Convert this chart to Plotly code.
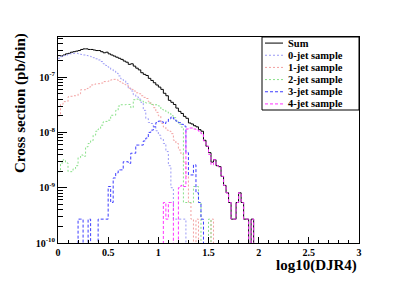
import plotly.graph_objects as go

# ---------------- data (cross section per bin, pb/bin); bins of 0.025 in log10(DJR4) from 0 to 2.0
bin_width = 0.025
n_bins = 80

sum_vals = [
    2.45e-7, 2.40e-7, 2.51e-7, 2.63e-7, 2.69e-7, 2.82e-7, 2.88e-7, 2.95e-7, 3.02e-7, 3.16e-7,
    3.24e-7, 3.24e-7, 3.16e-7, 3.16e-7, 3.09e-7, 3.02e-7, 3.02e-7, 2.88e-7, 2.75e-7, 2.82e-7,
    2.63e-7, 2.51e-7, 2.40e-7, 2.29e-7, 2.19e-7, 2.09e-7, 1.95e-7, 1.86e-7, 1.70e-7, 1.74e-7,
    1.58e-7, 1.45e-7, 1.35e-7, 1.20e-7, 1.12e-7, 1.07e-7, 9.5e-8, 8.7e-8, 7.9e-8, 7.2e-8,
    6.6e-8, 6.0e-8, 5.1e-8, 4.6e-8, 3.8e-8, 3.5e-8, 3.2e-8, 2.75e-8, 2.4e-8, 2.2e-8,
    1.95e-8, 1.8e-8, 1.48e-8, 1.42e-8, 1.32e-8, 1.26e-8, 1.12e-8, 1.05e-8, 7.2e-9, 5.6e-9,
    4.3e-9, 2.9e-9, 3.2e-9, 2.5e-9, 2.4e-9, 1.6e-9, 1.1e-9, 8.1e-10, 5.4e-10, 2.7e-10,
    2.7e-10, 5.4e-10, 8.1e-10, 5.4e-10, 2.7e-10, 2.7e-10, 0, 2.7e-10, 0, 0,
]

jet0_vals = [
    2.19e-7, 2.34e-7, 2.45e-7, 2.51e-7, 2.63e-7, 2.63e-7, 2.69e-7, 2.69e-7, 2.63e-7, 2.57e-7,
    2.51e-7, 2.45e-7, 2.40e-7, 2.34e-7, 2.24e-7, 2.14e-7, 2.04e-7, 1.91e-7, 1.74e-7, 1.62e-7,
    1.51e-7, 1.38e-7, 1.29e-7, 1.17e-7, 1.05e-7, 9.3e-8, 8.7e-8, 7.6e-8, 6.3e-8, 5.6e-8,
    4.8e-8, 4.4e-8, 4.0e-8, 3.5e-8, 2.5e-8, 1.78e-8, 1.51e-8, 1.45e-8, 1.26e-8, 1.07e-8,
    8.9e-9, 7.6e-9, 6.3e-9, 4.5e-9, 2.5e-9, 1.0e-9, 2.7e-10, 2.7e-10, 2.7e-10, 2.7e-10,
    2.7e-10, 0, 0, 0, 0, 0, 0, 0, 0, 0,
    0, 0, 0, 0, 0, 0, 0, 0, 0, 0,
    0, 0, 0, 0, 0, 0, 0, 0, 0, 0,
]

jet1_vals = [
    2.0e-8, 3.2e-8, 3.6e-8, 3.6e-8, 4.4e-8, 4.5e-8, 4.6e-8, 4.6e-8, 5.0e-8, 5.9e-8,
    5.9e-8, 6.2e-8, 6.6e-8, 7.2e-8, 7.4e-8, 7.6e-8, 7.6e-8, 7.8e-8, 8.3e-8, 8.3e-8,
    8.5e-8, 8.9e-8, 9.1e-8, 8.9e-8, 8.3e-8, 7.8e-8, 7.4e-8, 7.1e-8, 6.3e-8, 6.0e-8,
    5.6e-8, 5.2e-8, 5.0e-8, 4.6e-8, 4.3e-8, 4.1e-8, 3.6e-8, 3.2e-8, 2.8e-8, 2.3e-8,
    2.0e-8, 1.45e-8, 1.25e-8, 1.1e-8, 1.05e-8, 9.5e-9, 7.2e-9, 6.3e-9, 4.8e-9, 4.0e-9,
    2.9e-9, 1.6e-9, 5.4e-10, 2.7e-10, 0, 2.7e-10, 0, 0, 0, 0,
    0, 2.7e-10, 0, 0, 0, 0, 0, 0, 0, 0,
    0, 0, 0, 0, 0, 0, 0, 0, 0, 0,
]

jet2_vals = [
    1.95e-9, 2.8e-9, 3.2e-9, 2.8e-9, 1.95e-9, 1.95e-9, 2.2e-9, 2.5e-9, 3.5e-9, 3.9e-9,
    3.7e-9, 5.5e-9, 6.3e-9, 7.1e-9, 8.9e-9, 1.05e-8, 1.15e-8, 1.35e-8, 1.55e-8, 1.58e-8,
    1.66e-8, 2.04e-8, 2.04e-8, 2.5e-8, 3.0e-8, 3.16e-8, 3.16e-8, 3.2e-8, 3.2e-8, 2.8e-8,
    3.9e-8, 4.0e-8, 3.8e-8, 3.7e-8, 3.5e-8, 3.4e-8, 3.4e-8, 3.2e-8, 3.16e-8, 3.16e-8,
    3.0e-8, 2.6e-8, 2.5e-8, 2.34e-8, 2.2e-8, 2.0e-8, 1.85e-8, 1.6e-8, 1.4e-8, 1.25e-8,
    5.4e-10, 5.4e-10, 5.4e-10, 5.4e-10, 1.05e-9, 1.05e-9, 5.4e-10, 0, 0, 0,
    2.7e-10, 0, 0, 0, 0, 0, 0, 0, 0, 0,
    0, 0, 0, 0, 0, 0, 0, 0, 0, 0,
]

jet3_vals = [
    0, 0, 0, 0, 0, 0, 0, 0, 2.7e-10, 2.7e-10,
    0, 0, 2.7e-10, 0, 0, 0, 2.7e-10, 2.7e-10, 2.7e-10, 2.7e-10,
    1.05e-9, 5.4e-10, 1.5e-9, 1.85e-9, 2.1e-9, 2.1e-9, 2.95e-9, 2.95e-9, 2.75e-9, 4.2e-9,
    4.2e-9, 5.9e-9, 5.9e-9, 5.9e-9, 7.0e-9, 7.9e-9, 1.0e-8, 1.1e-8, 1.26e-8, 1.5e-8,
    1.6e-8, 1.55e-8, 1.45e-8, 1.55e-8, 1.75e-8, 1.9e-8, 1.75e-8, 1.6e-8, 1.5e-8, 1.4e-8,
    1.3e-8, 4.3e-9, 1.7e-9, 1.7e-9, 2.6e-9, 8.1e-10, 5.4e-10, 2.7e-10, 0, 0,
    0, 0, 0, 0, 0, 0, 0, 0, 0, 0,
    0, 0, 0, 0, 0, 0, 0, 0, 0, 0,
]

jet4_vals = [
    0, 0, 0, 0, 0, 0, 0, 0, 0, 0,
    0, 0, 0, 0, 0, 0, 0, 0, 0, 0,
    0, 0, 0, 0, 0, 0, 0, 0, 0, 0,
    0, 0, 0, 0, 0, 0, 0, 0, 0, 0,
    0, 0, 5.4e-10, 2.7e-10, 5.4e-10, 5.4e-10, 0, 0, 1.0e-9, 1.1e-9,
    1.05e-9, 1.15e-8, 1.2e-8, 1.2e-8, 1.15e-8, 1.1e-8, 1.05e-8, 9.5e-9, 7.0e-9, 5.6e-9,
    4.0e-9, 2.6e-9, 3.2e-9, 2.5e-9, 2.4e-9, 1.6e-9, 1.1e-9, 8.1e-10, 5.4e-10, 2.7e-10,
    2.7e-10, 5.4e-10, 8.1e-10, 5.4e-10, 2.7e-10, 2.7e-10, 0, 2.7e-10, 0, 0,
]

series_names = ["Sum", "0-jet sample", "1-jet sample", "2-jet sample", "3-jet sample", "4-jet sample"]
series_vals = [sum_vals, jet0_vals, jet1_vals, jet2_vals, jet3_vals, jet4_vals]

x_tick_vals = [0, 0.5, 1, 1.5, 2, 2.5, 3]
x_tick_text = ["0", "0.5", "1", "1.5", "2", "2.5", "3"]
y_tick_vals = [1e-10, 1e-9, 1e-8, 1e-7]
y_tick_text = ["10<sup>-10</sup>", "10<sup>-9</sup>", "10<sup>-8</sup>", "10<sup>-7</sup>"]

# ---------------- styles
colors = ["#000000", "#9a9af5", "#f2a0a0", "#88e088", "#3c3cff", "#ff33ff"]
dashes = ["solid", "2px,2px", "2px,2px", "2px,2px", "3px,2px", "3px,2px"]
FONT = "Liberation Serif, Times New Roman, serif"
FLOOR = 1e-12  # empty bins drawn at the bottom of the frame, as ROOT does on log scale

edges = [round(i * bin_width, 4) for i in range(n_bins + 1)]

fig = go.Figure()
for name, vals, c, d in zip(series_names, series_vals, colors, dashes):
    yv = [v if v > 0 else FLOOR for v in vals]
    fig.add_trace(go.Scatter(
        x=edges, y=yv + [yv[-1]], mode="lines", name=name,
        line=dict(color=c, width=1, dash=d, shape="hv"),
        showlegend=False, hoverinfo="skip",
    ))

# the page body adds an 8px offset; positions below are in window pixels
OFF = 8
W, H = 407 - OFF, 288 - OFF
FX0, FX1, FY0, FY1 = 58, 359, 37, 243   # frame in window pixels
L, T = FX0 - OFF, FY0 - OFF
pw, ph = FX1 - FX0, FY1 - FY0
R, B = W - L - pw, H - T - ph

fig.update_layout(
    width=W, height=H,
    margin=dict(l=L, r=R, t=T, b=B, autoexpand=False),
    paper_bgcolor="white", plot_bgcolor="white",
    font=dict(family=FONT, color="black", weight="bold"),
    xaxis=dict(
        range=[0, 3], showgrid=False, zeroline=False,
        showline=True, mirror=True, linecolor="black", linewidth=1,
        tickmode="array", tickvals=x_tick_vals, ticktext=x_tick_text,
        ticks="inside", ticklen=6, tickcolor="black",
        minor=dict(ticks="inside", ticklen=3, dtick=0.1, tick0=0, tickcolor="black", showgrid=False),
        tickfont=dict(family=FONT, size=10, weight="bold"),
    ),
    yaxis=dict(
        type="log", range=[-10, -6.275], showgrid=False, zeroline=False,
        showline=True, mirror=True, linecolor="black", linewidth=1,
        tickmode="array", tickvals=y_tick_vals, ticktext=y_tick_text,
        ticks="inside", ticklen=9, tickcolor="black",
        minor=dict(ticks="inside", ticklen=4.5, tickcolor="black", showgrid=False,
                   tickmode="array",
                   tickvals=[k * 10.0 ** e for e in range(-10, -6) for k in range(2, 10)]),
        tickfont=dict(family=FONT, size=10, weight="bold"),
    ),
)

def px_x(p):
    return (p - FX0) / pw

def px_y(p):
    return (FY1 - p) / ph

annotations = [
    dict(text="log10(DJR4)", xref="paper", yref="paper", x=1.0, y=px_y(265),
         xanchor="right", yanchor="middle", showarrow=False,
         font=dict(family=FONT, size=15, weight="bold")),
    dict(text="Cross section (pb/bin)", xref="paper", yref="paper",
         x=px_x(20), y=px_y(103), xanchor="center", yanchor="middle",
         textangle=-90, showarrow=False, font=dict(family=FONT, size=15, weight="bold")),
]

# legend box (ROOT TLegend style)
lx0, lx1, ly0, ly1 = 262, 359, 37, 110
shapes = [dict(type="rect", xref="paper", yref="paper",
               x0=px_x(lx0), x1=px_x(lx1), y0=px_y(ly1), y1=px_y(ly0),
               line=dict(color="black", width=1), fillcolor="white", layer="above")]
row_h = (ly1 - ly0) / len(series_names)
for i, (name, c, d) in enumerate(zip(series_names, colors, dashes)):
    yc = ly0 + row_h * (i + 0.5)
    shapes.append(dict(type="line", xref="paper", yref="paper",
                       x0=px_x(265), x1=px_x(283), y0=px_y(yc), y1=px_y(yc),
                       line=dict(color=c, width=1, dash=d), layer="above"))
    annotations.append(dict(text=name, xref="paper", yref="paper", x=px_x(286), y=px_y(yc),
                            xanchor="left", yanchor="middle", showarrow=False,
                            font=dict(family=FONT, size=10.5, weight="bold")))

fig.update_layout(shapes=shapes, annotations=annotations)
fig.write_html("out.html")
